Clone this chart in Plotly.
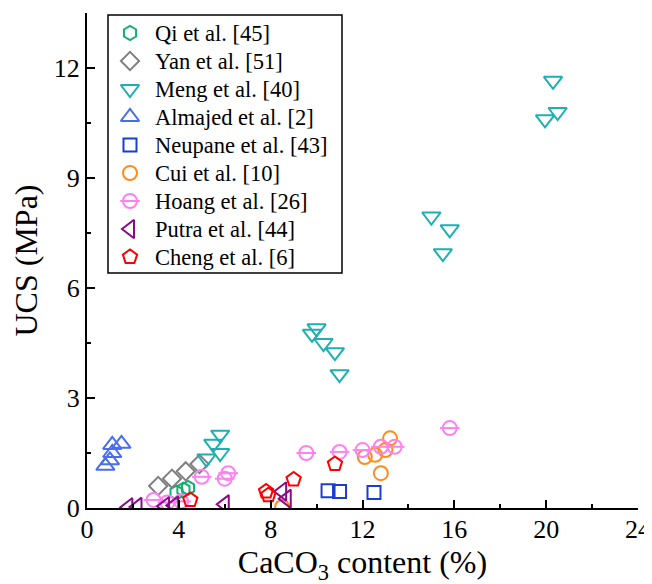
import plotly.graph_objects as go

# ---- data (CaCO3 content %, UCS MPa) ----
qi_x = [3.9, 4.2, 4.4]
qi_y = [0.42, 0.5, 0.55]

yan_x = [3.1, 3.7, 4.3, 4.9]
yan_y = [0.6, 0.8, 1.0, 1.2]

meng_x = [5.2, 5.5, 5.8, 5.8, 9.8, 10.0, 10.3, 10.8, 11.0, 15.0, 15.8, 15.5, 20.3, 20.5, 19.95]
meng_y = [1.35, 1.75, 1.5, 2.0, 4.75, 4.9, 4.5, 4.25, 3.65, 7.95, 7.6, 6.95, 11.65, 10.8, 10.6]

alm_x = [0.8, 1.0, 1.1, 1.1, 1.5]
alm_y = [1.15, 1.3, 1.5, 1.72, 1.75]

neu_x = [10.5, 11.0, 12.5]
neu_y = [0.47, 0.45, 0.42]

cui_x = [8.5, 12.1, 12.55, 13.0, 13.2, 12.8]
cui_y = [0.03, 1.39, 1.45, 1.58, 1.9, 0.95]

hoang_x = [2.9, 3.5, 4.1, 5.0, 6.0, 6.15, 9.55, 11.0, 12.0, 12.8, 13.4, 15.8]
hoang_y = [0.22, 0.15, 0.18, 0.85, 0.8, 0.95, 1.5, 1.53, 1.58, 1.67, 1.67, 2.18]

putra_x = [1.8, 2.2, 3.4, 3.8, 6.0, 8.5, 8.7]
putra_y = [0.02, 0.03, 0.05, 0.07, 0.1, 0.45, 0.25]

cheng_x = [4.5, 7.8, 7.9, 9.0, 10.8]
cheng_y = [0.22, 0.45, 0.35, 0.78, 1.2]

x_ticks = [0, 4, 8, 12, 16, 20, 24]
y_ticks = [0, 3, 6, 9, 12]

FONT = "Liberation Serif"

series = [
    ("Qi et al. [45]", qi_x, qi_y, "hexagon-open", "#10B070", 14),
    ("Yan et al. [51]", yan_x, yan_y, "diamond-open", "#808080", 14),
    ("Meng et al. [40]", meng_x, meng_y, "triangle-down-open", "#1EB0B0", 16),
    ("Almajed et al. [2]", alm_x, alm_y, "triangle-up-open", "#4A6CF0", 16),
    ("Neupane et al. [43]", neu_x, neu_y, "square-open", "#1A3FD0", 13),
    ("Cui et al. [10]", cui_x, cui_y, "circle-open", "#FF8C1A", 14),
    ("Hoang et al. [26]", hoang_x, hoang_y, "circle-open", "#FF80F0", 14),
    ("Putra et al. [44]", putra_x, putra_y, "triangle-left-open", "#8A0A8A", 16),
    ("Cheng et al. [6]", cheng_x, cheng_y, "pentagon-open", "#FF0000", 15),
]

# the page body adds an 8 px offset; positions below are in figure pixels
OFF = 8
W, H = 652, 584
PLOT_L, PLOT_R, PLOT_T, PLOT_B = 87 - OFF, 638 - OFF, 13 - OFF, 508 - OFF
LEG_BOX = (108 - OFF, 15 - OFF, 342 - OFF, 273 - OFF)
LEG_Y0, LEG_STEP = 33 - OFF, 28.0
LEG_SYM_X, LEG_TXT_X = 130 - OFF, 153 - OFF

fig = go.Figure()

# legend box
fig.add_shape(type="rect", xref="x2", yref="y2",
              x0=LEG_BOX[0], y0=LEG_BOX[1], x1=LEG_BOX[2], y1=LEG_BOX[3],
              line=dict(color="black", width=1.5), fillcolor="white", layer="below")

for i, (name, xs, ys, sym, col, sz) in enumerate(series):
    mk = dict(symbol=sym, size=sz, color=col, line=dict(width=2, color=col))
    fig.add_trace(go.Scatter(x=xs, y=ys, mode="markers", name=name, marker=mk, showlegend=False))
    ly = LEG_Y0 + LEG_STEP * i
    fig.add_trace(go.Scatter(x=[LEG_SYM_X], y=[ly], xaxis="x2", yaxis="y2", mode="markers",
                             marker=mk, showlegend=False, hoverinfo="skip"))
    if name.startswith("Hoang"):
        mk2 = dict(symbol="line-ew-open", size=sz, color=col, line=dict(width=2, color=col))
        fig.add_trace(go.Scatter(x=xs, y=ys, mode="markers", showlegend=False, hoverinfo="skip", marker=mk2))
        fig.add_trace(go.Scatter(x=[LEG_SYM_X], y=[ly], xaxis="x2", yaxis="y2", mode="markers",
                                 marker=mk2, showlegend=False, hoverinfo="skip"))
    fig.add_annotation(x=LEG_TXT_X, y=ly, xref="x2", yref="y2", text=name, showarrow=False,
                       xanchor="left", yanchor="middle",
                       font=dict(family=FONT, size=22.5, color="black"))

axis_common = dict(
    showline=True, linecolor="black", linewidth=2,
    ticks="inside", ticklen=8, tickwidth=2, tickcolor="black",
    showgrid=False, zeroline=False, mirror=False, automargin=False,
    tickfont=dict(family=FONT, size=26, color="black"),
)

fig.update_xaxes(
    range=[0, 24], tickvals=x_ticks, ticktext=[str(v) for v in x_ticks],
    minor=dict(ticks="inside", ticklen=4, tickwidth=2, tickcolor="black", dtick=2, tick0=0),
    ticklabelstandoff=-3,
    title=dict(text="CaCO<sub>3</sub> content (%)", font=dict(family=FONT, size=32, color="black"), standoff=0),
    **axis_common,
)
fig.update_yaxes(
    range=[0, 13.5], tickvals=y_ticks, ticktext=[str(v) for v in y_ticks],
    minor=dict(ticks="inside", ticklen=4, tickwidth=2, tickcolor="black", dtick=1.5, tick0=0),
    title=dict(text="UCS (MPa)", font=dict(family=FONT, size=32, color="black"), standoff=19),
    **axis_common,
)

fig.update_layout(
    width=W, height=H,
    margin=dict(l=PLOT_L, r=W - PLOT_R, t=PLOT_T, b=H - PLOT_B),
    paper_bgcolor="white", plot_bgcolor="white",
    showlegend=False,
    xaxis2=dict(overlaying="x", range=[PLOT_L, PLOT_R], visible=False, fixedrange=True),
    yaxis2=dict(overlaying="y", range=[PLOT_B, PLOT_T], visible=False, fixedrange=True),
)

fig.write_html("out.html")
